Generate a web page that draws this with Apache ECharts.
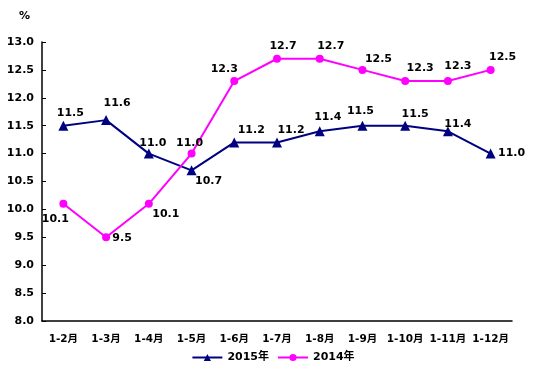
<!DOCTYPE html>
<html>
<head>
<meta charset="utf-8">
<script src="https://cdn.jsdelivr.net/npm/echarts@6/dist/echarts.min.js"></script>
<style>
html,body{margin:0;padding:0;background:#fff;}
#main{width:546px;height:376px;}
</style>
</head>
<body>
<div id="main"></div>
<script>
// 数据
var categories = ['1-2月','1-3月','1-4月','1-5月','1-6月','1-7月','1-8月','1-9月','1-10月','1-11月','1-12月'];
var data2015 = [11.5, 11.6, 11.0, 10.7, 11.2, 11.2, 11.4, 11.5, 11.5, 11.4, 11.0];
var data2014 = [10.1, 9.5, 10.1, 11.0, 12.3, 12.7, 12.7, 12.5, 12.3, 12.3, 12.5];
var yTicks = [8.0, 8.5, 9.0, 9.5, 10.0, 10.5, 11.0, 11.5, 12.0, 12.5, 13.0];

// 标签偏移（相对点中心）
var off2015 = [[7,-13],[11,-17],[4,-10],[17,11],[17,-12],[14,-12],[8,-14],[-2,-15],[10,-12],[10,-7],[21,0]];
var off2014 = [[-8,15],[16,1],[17,10],[-2,-10],[-10,-12],[6,-13],[11,-13],[16,-11],[15,-13],[10,-15],[12,-13]];

var font = '"DejaVu Sans", "Noto Sans CJK SC", sans-serif';

function withLabels(vals, offs){
    return vals.map(function(v, i){
        return {value: v, label: {offset: offs[i]}};
    });
}

var myChart = echarts.init(document.getElementById('main'));
var option = {
    animation: false,
    backgroundColor: '#fff',
    title: {
        text: '%',
        left: 14, top: 6,
        textStyle: {fontSize: 11, fontWeight: 'bold', color: '#000', fontFamily: font}
    },
    grid: {left: 42, right: 34, top: 42, bottom: 55},
    legend: {
        bottom: 8,
        left: 'center',
        itemWidth: 30,
        itemHeight: 9,
        itemGap: 8,
        textStyle: {fontSize: 11, fontWeight: 'bold', color: '#000', fontFamily: font},
        data: ['2015年', '2014年']
    },
    xAxis: {
        type: 'category',
        data: categories,
        boundaryGap: true,
        axisLine: {lineStyle: {color: '#000', width: 1.5}},
        axisTick: {inside: true, length: 4, lineStyle: {color: '#000'}},
        axisLabel: {interval: 0, margin: 13, fontSize: 10.5, fontWeight: 'bold', color: '#000', fontFamily: font}
    },
    yAxis: {
        type: 'value',
        min: 8.0, max: 13.0, interval: 0.5,
        splitLine: {show: false},
        axisLine: {show: true, lineStyle: {color: '#000', width: 1.5}},
        axisTick: {show: true, inside: true, length: 4, lineStyle: {color: '#000'}},
        axisLabel: {
            margin: 8, fontSize: 11, fontWeight: 'bold', color: '#000', fontFamily: font,
            formatter: function(v){ return yTicks.indexOf(v) >= 0 ? v.toFixed(1) : ''; }
        }
    },
    series: [
        {
            name: '2015年',
            type: 'line',
            data: withLabels(data2015, off2015),
            symbol: 'triangle',
            symbolSize: 10,
            itemStyle: {color: '#000080'},
            lineStyle: {color: '#000080', width: 2},
            label: {
                show: true, position: 'inside',
                fontSize: 11, fontWeight: 'bold', color: '#000', fontFamily: font,
                formatter: function(p){ return p.value.toFixed(1); }
            }
        },
        {
            name: '2014年',
            type: 'line',
            data: withLabels(data2014, off2014),
            symbol: 'circle',
            symbolSize: 8,
            itemStyle: {color: '#FF00FF'},
            lineStyle: {color: '#FF00FF', width: 2},
            label: {
                show: true, position: 'inside',
                fontSize: 11, fontWeight: 'bold', color: '#000', fontFamily: font,
                formatter: function(p){ return p.value.toFixed(1); }
            }
        }
    ]
};
myChart.setOption(option);
</script>
</body>
</html>
